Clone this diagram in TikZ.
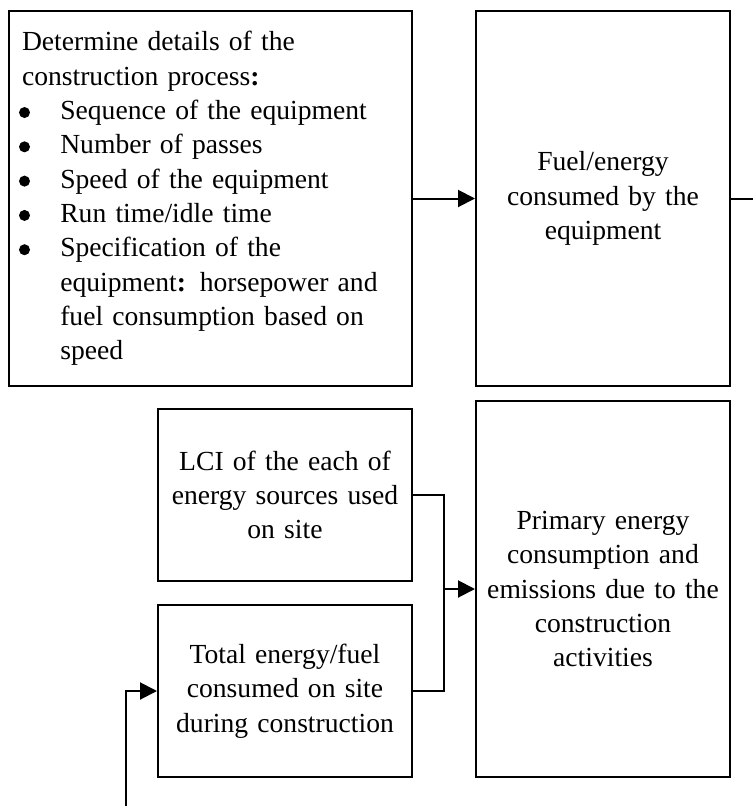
\documentclass[tikz,border=0pt]{standalone}
\usepackage{fontspec}
\setmainfont{Liberation Serif}
\usetikzlibrary{arrows.meta}
\newcommand\bulitem{\makebox[38.3pt][l]{\hspace*{-3pt}\tikz[baseline=0pt]\fill (5.5pt,7pt) circle[radius=5.5pt];}}
\begin{document}
\begin{tikzpicture}[x=1pt,y=-1pt,
  box/.style={draw, line width=2pt, inner sep=2pt, align=center,
    font=\fontsize{27.6}{34.3}\selectfont},
  conn/.style={line width=2pt},
  arr/.style={conn, -{Triangle[length=17pt,width=17pt]}}]
\useasboundingbox (0,0) rectangle (753,806);

\node[box, minimum width=403pt, minimum height=375pt, text width=377pt,
      align=left, inner xsep=13pt] (b1) at (210.5,198.5)
{Determine details of the\\
construction process\textbf{:}\\
\bulitem Sequence of the equipment\\
\bulitem Number of passes\\
\bulitem Speed of the equipment\\
\bulitem Run time/idle time\\
\bulitem Specification of the\\
\hspace*{38.3pt}equipment\textbf{:} horsepower and\\
\hspace*{38.3pt}fuel consumption based on\\
\hspace*{38.3pt}speed};

\node[box, minimum width=254pt, minimum height=375pt, text width=240pt] (b2) at (603,198.5)
{Fuel/energy\\consumed by the\\equipment};

\node[box, minimum width=254pt, minimum height=172pt, text width=240pt] (b3) at (285,495)
{LCI of the each of\\energy sources used\\on site};

\node[box, minimum width=254pt, minimum height=172pt, text width=240pt] (b4) at (285,691)
{Total energy/fuel\\consumed on site\\during construction};

\node[box, minimum width=254pt, minimum height=376pt, text width=250pt] (b5) at (603,589)
{Primary energy\\consumption and\\emissions due to the\\construction\\activities};

\coordinate (edge) at (753,198.5);
\coordinate (start) at (126,806);
\coordinate (jt) at (444,495);
\coordinate (jb) at (444,691);
\coordinate (jm) at (444,589);

\draw[arr] (b1.east) -- (b2.west);
\draw[conn] (b2.east) -- (edge);
\draw[conn] (b3.east) -- (jt) -- (jb) -- (b4.east);
\draw[arr] (jm) -- (b5.west);
\draw[arr] (start) |- (b4.west);
\end{tikzpicture}
\end{document}
